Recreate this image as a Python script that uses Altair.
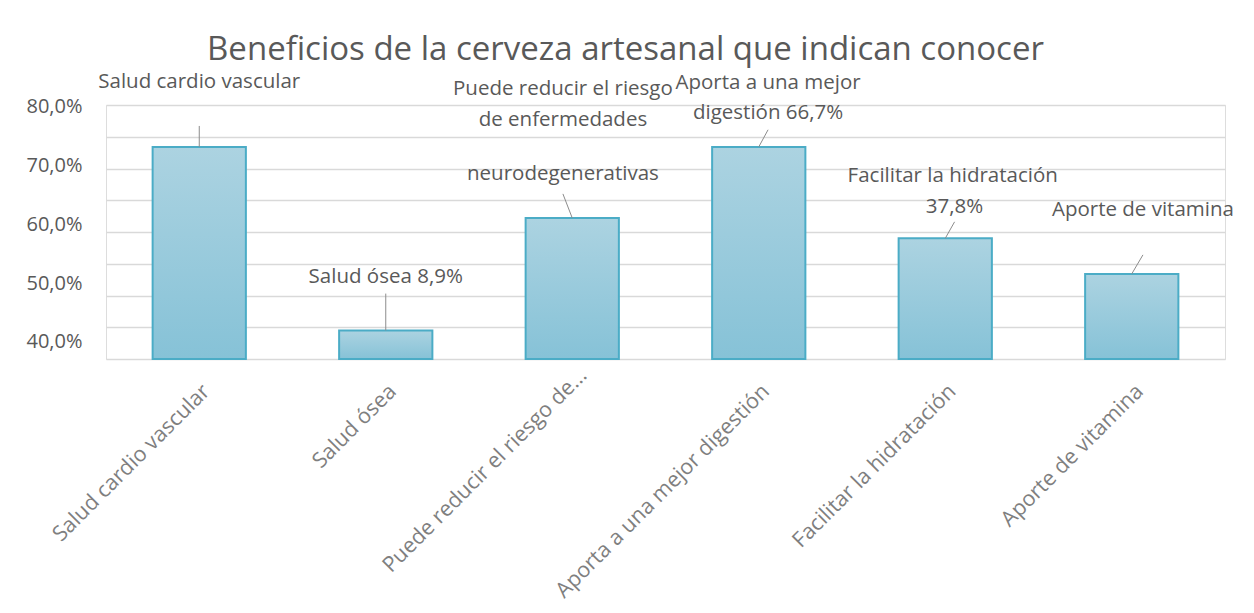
import json
import altair as alt
import pandas as pd

# ---------------- data ----------------
categories = [
    "Salud cardio vascular",
    "Salud ósea",
    "Puede reducir el riesgo de...",
    "Aporta a una mejor digestión",
    "Facilitar la hidratación",
    "Aporte de vitamina",
]
values = [73.4, 44.5, 62.2, 73.4, 59.0, 53.4]

grid_values = [40, 45, 50, 55, 60, 65, 70, 75, 80]
tick_labels = [40, 50, 60, 70, 80]

label_text = [
    "Salud cardio vascular",
    "Salud ósea 8,9%",
    "Puede reducir el riesgo",
    "de enfermedades",
    "neurodegenerativas",
    "Aporta a una mejor",
    "digestión 66,7%",
    "Facilitar la hidratación",
    "37,8%",
    "Aporte de vitamina",
]
label_x = [0.0, 1.0, 1.95, 1.95, 1.95, 3.05, 3.05, 4.04, 4.05, 5.06]
label_y = [83.6, 52.9, 82.5, 77.6, 69.1, 83.5, 78.7, 68.8, 64.0, 63.5]

leader_x1 = [0.0, 1.0, 1.95, 3.05, 4.05, 5.06]
leader_y1 = [76.7, 50.3, 66.0, 76.1, 61.6, 56.4]
leader_x2 = [0.0, 1.0, 2.0, 3.0, 4.0, 5.0]
leader_y2 = values

x_label_offsets = [7, 7, 11, 7, 7, 8]
x_label_pads = [29, 29, 13, 29, 29, 29]

# ---------------- tables ----------------
bars_df = pd.DataFrame({"idx": list(range(len(categories))), "cat": categories, "value": values})
labels_df = pd.DataFrame({"lx": label_x, "ly": label_y, "txt": label_text})
leaders_df = pd.DataFrame({"x1": leader_x1, "y1": leader_y1, "x2": leader_x2, "y2": leader_y2})
ticks_df = pd.DataFrame({"t": tick_labels})

GRAY = "#595959"
FONT = "Open Sans"

x_scale = alt.Scale(domain=[-0.5, len(categories) - 0.5], nice=False, zero=False)
y_scale = alt.Scale(domain=[40, 80], nice=False, zero=False)

label_expr = json.dumps(categories, ensure_ascii=False) + "[datum.value]"


def per_label(vals, default):
    return {
        "condition": [
            {"test": f"datum.value === {i}", "value": v} for i, v in enumerate(vals)
        ],
        "value": default,
    }


x_axis = alt.Axis(
    values=list(range(len(categories))),
    labelExpr=label_expr,
    labelAngle=-45,
    labelAlign="right",
    labelBaseline="middle",
    labelOffset=per_label(x_label_offsets, 7),
    labelPadding=per_label(x_label_pads, 29),
    labelFontSize=21.5,
    labelFont=FONT,
    labelColor="#7F7F7F",
    labelLimit=400,
    labelOverlap=False,
    ticks=False,
    domain=False,
    grid=False,
    title=None,
)
y_axis = alt.Axis(
    values=grid_values,
    labels=False,
    ticks=False,
    domain=False,
    grid=True,
    gridColor="#D9D9D9",
    gridWidth=1.5,
    title=None,
    orient="left",
)

gradient = alt.Gradient(
    gradient="linear",
    stops=[
        alt.GradientStop(color="#ACD3E1", offset=0),
        alt.GradientStop(color="#86C2D7", offset=1),
    ],
    x1=0, x2=0, y1=0, y2=1,
)

bars = (
    alt.Chart(bars_df)
    .transform_calculate(x_lo="datum.idx - 0.25", x_hi="datum.idx + 0.25")
    .mark_bar(color=gradient, stroke="#4BACC6", strokeWidth=2)
    .encode(
        x=alt.X("x_lo:Q", scale=x_scale, axis=x_axis),
        x2="x_hi:Q",
        y=alt.Y("value:Q", scale=y_scale, axis=y_axis),
        y2=alt.datum(40),
    )
)

leaders = (
    alt.Chart(leaders_df)
    .mark_rule(color="#8C8C8C", strokeWidth=1)
    .encode(
        x=alt.X("x1:Q", scale=x_scale, axis=x_axis),
        x2="x2:Q",
        y=alt.Y("y1:Q", scale=y_scale, axis=y_axis),
        y2="y2:Q",
    )
)

labels = (
    alt.Chart(labels_df)
    .mark_text(font=FONT, fontSize=20.5, color=GRAY, align="center", baseline="middle")
    .encode(
        x=alt.X("lx:Q", scale=x_scale, axis=x_axis),
        y=alt.Y("ly:Q", scale=y_scale, axis=y_axis),
        text="txt:N",
    )
)

main = alt.layer(bars, leaders, labels)

axis_layer = (
    alt.Chart(ticks_df)
    .mark_point(opacity=0)
    .encode(
        y=alt.Y(
            "t:Q",
            scale=alt.Scale(domain=[37.06, 80.34], nice=False, zero=False),
            axis=alt.Axis(
                values=tick_labels,
                labelExpr="replace(format(datum.value, '.1f'), '.', ',') + '%'",
                labelFontSize=20,
                labelFont=FONT,
                labelColor=GRAY,
                labelPadding=24,
                ticks=False,
                domain=False,
                grid=False,
                title=None,
                orient="left",
            ),
        )
    )
)

chart = (
    alt.layer(main, axis_layer)
    .resolve_scale(y="independent")
    .properties(
        width=1119,
        height=254,
        padding={"left": 98, "top": 97, "right": 21, "bottom": 246},
        autosize=alt.AutoSizeParams(type="none"),
        title=alt.TitleParams(
            "Beneficios de la cerveza artesanal que indican conocer",
            fontSize=33,
            font=FONT,
            fontWeight="normal",
            color=GRAY,
            anchor="middle",
            frame="group",
            dx=-40,
            offset=5,
        ),
    )
    .configure_view(stroke=None)
    .configure(background="white")
)

chart.save("out.html", embed_options={"renderer": "svg", "actions": False})
